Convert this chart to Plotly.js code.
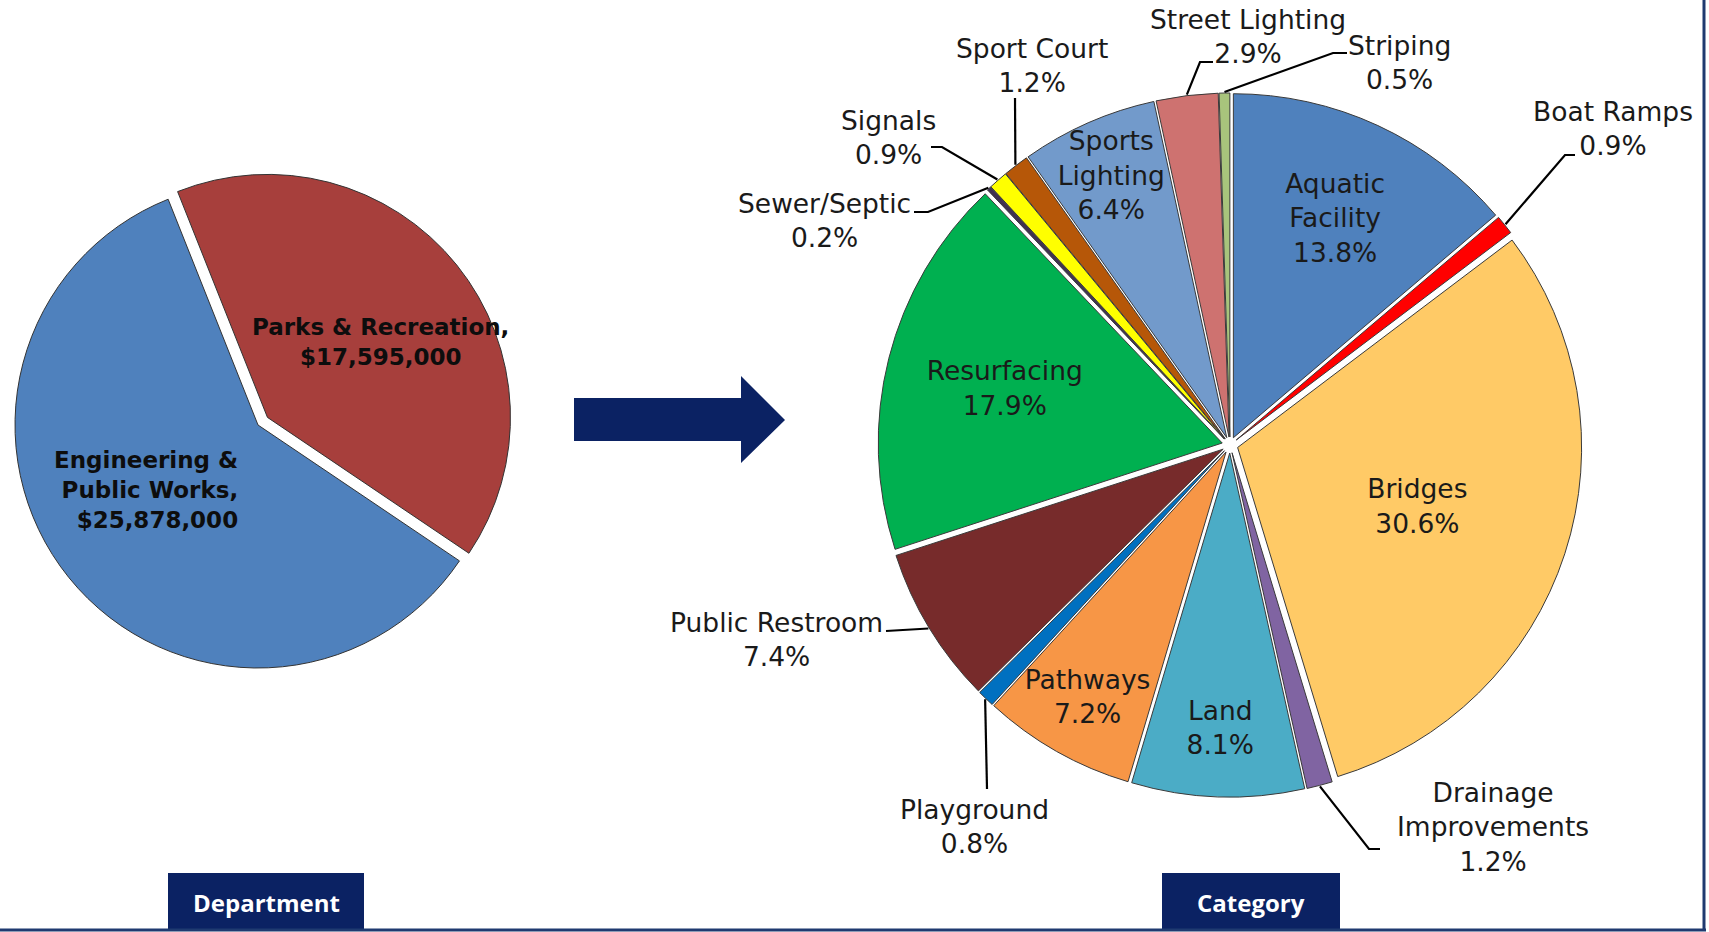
<!DOCTYPE html>
<html>
<head>
<meta charset="utf-8">
<script src="https://cdn.plot.ly/plotly-3.0.1.min.js"></script>
<style>
html,body{margin:0;padding:0;overflow:hidden;background:#ffffff;}
#chart{width:1709px;height:932px;}
</style>
</head>
<body>
<div id="chart"></div>
<script>
// ---------------- DATA ----------------
const departments = ['Engineering & Public Works', 'Parks & Recreation'];
const departmentBudgets = [25878000, 17595000];
const departmentLabelText = ['Engineering &<br>Public Works,', 'Parks & Recreation,'];

const categories = ['Aquatic Facility', 'Boat Ramps', 'Bridges', 'Drainage Improvements', 'Land',
  'Pathways', 'Playground', 'Public Restroom', 'Resurfacing', 'Sewer/Septic', 'Signals',
  'Sport Court', 'Sports Lighting', 'Street Lighting', 'Striping'];
const categoryShares = [13.8, 0.9, 30.6, 1.2, 8.1, 7.2, 0.8, 7.4, 17.9, 0.2, 0.9, 1.2, 6.4, 2.9, 0.5];
const categoryLabelText = ['Aquatic<br>Facility', 'Boat Ramps', 'Bridges', 'Drainage<br>Improvements', 'Land',
  'Pathways', 'Playground', 'Public Restroom', 'Resurfacing', 'Sewer/Septic', 'Signals',
  'Sport Court', 'Sports<br>Lighting', 'Street Lighting', 'Striping'];

const panelTitles = ['Department', 'Category'];

// ---------------- STYLE / LAYOUT ----------------
const departmentColors = ['#4F81BD', '#A73F3C'];
const categoryColors = ['#4F81BD', '#FF0000', '#FFCA66', '#8064A2', '#4BACC6', '#F79646', '#0070C0',
  '#772B2B', '#00B050', '#403152', '#FFFF00', '#B65708', '#729ACB', '#CE7270', '#A8C47C'];

const W = 1709, H = 932;
const X = v => v / W;
const Y = v => 1 - v / H;

// left pie geometry (pixels)
const L = {cx: 258, cy: 425, r: 243, pulls: [0, 0.05], rotation: 124};
// right pie geometry (pixels)
const R = {cx: 1230, cy: 445, r: 344, pull: 0.0233};

function domainFor(g, maxPull) {
  const half = g.r * (1 + maxPull);
  return {
    x: [X(g.cx - half), X(g.cx + half)],
    y: [Y(g.cy + half), Y(g.cy - half)]
  };
}

// outside label placement (label centre, elbow, end of leader) in pixels
const outsideLabels = {
  'Boat Ramps':            {x: 1613, y: 129, path: [[1565, 155], [1575, 155]]},
  'Drainage Improvements': {x: 1493, y: 827, path: [[1369, 849], [1380, 849]]},
  'Playground':            {x: 974,  y: 826, path: [[987, 789]]},
  'Public Restroom':       {x: 776,  y: 639, path: [[886, 631]]},
  'Sewer/Septic':          {x: 824,  y: 221, path: [[928, 212], [914, 212]]},
  'Signals':               {x: 888,  y: 137, path: [[942, 147], [931, 147]]},
  'Sport Court':           {x: 1032, y: 65,  path: [[1015, 98]]},
  'Street Lighting':       {x: 1248, y: 37,  path: [[1200, 62], [1213, 62]]},
  'Striping':              {x: 1399, y: 63,  path: [[1333, 53], [1347, 53]]}
};

const FONT = 'DejaVu Sans, Verdana, sans-serif';
const LABEL_SIZE = 26.5;
const textColor = '#1a1a1a';
const navy = '#0B2263';

// ---------------- TRACES ----------------
const leftPie = {
  type: 'pie',
  labels: departments,
  values: departmentBudgets,
  sort: false,
  direction: 'clockwise',
  rotation: L.rotation,
  pull: L.pulls,
  marker: {colors: departmentColors, line: {color: '#333333', width: 1}},
  textinfo: 'none',
  hoverinfo: 'label+value',
  domain: domainFor(L, Math.max(...L.pulls)),
  showlegend: false
};

const rightPositions = categories.map(c => outsideLabels[c] ? 'none' : 'inside');
const rightTemplates = categories.map(c => outsideLabels[c] ? '' : '%{text}<br>%{percent:.1%}');

const rightPie = {
  type: 'pie',
  labels: categories,
  values: categoryShares,
  text: categoryLabelText,
  sort: false,
  direction: 'clockwise',
  rotation: 0,
  pull: categories.map(() => R.pull),
  marker: {colors: categoryColors, line: {color: '#3a3a3a', width: 1}},
  textposition: rightPositions,
  texttemplate: rightTemplates,
  insidetextorientation: 'horizontal',
  insidetextfont: {family: FONT, size: LABEL_SIZE, color: textColor},
  hoverinfo: 'label+percent',
  domain: domainFor(R, R.pull),
  showlegend: false
};

// ---------------- ANNOTATIONS & SHAPES ----------------
const annotations = [];
const shapes = [];

// left pie labels
const fmt = v => '$' + v.toLocaleString('en-US');
annotations.push({
  xref: 'paper', yref: 'paper', x: X(240), y: Y(490), xanchor: 'right', yanchor: 'middle',
  align: 'right', showarrow: false,
  text: departmentLabelText[0] + '<br>' + fmt(departmentBudgets[0]),
  font: {family: FONT, size: 23, color: '#0d0d0d', weight: 700}
});
annotations.push({
  xref: 'paper', yref: 'paper', x: X(380), y: Y(342), xanchor: 'center', yanchor: 'middle',
  align: 'center', showarrow: false,
  text: departmentLabelText[1] + '<br>' + fmt(departmentBudgets[1]),
  font: {family: FONT, size: 23, color: '#0d0d0d', weight: 700}
});

// right pie outside labels + leaders (start point from the data's slice angle)
const total = categoryShares.reduce((a, b) => a + b, 0);
let cum = 0;
categories.forEach((c, i) => {
  const v = categoryShares[i];
  const mid = (cum + v / 2) / total * 2 * Math.PI;
  cum += v;
  const o = outsideLabels[c];
  if (!o) return;
  const pct = (v / total * 100).toFixed(1) + '%';
  annotations.push({
    xref: 'paper', yref: 'paper', x: X(o.x), y: Y(o.y), xanchor: 'center', yanchor: 'middle',
    align: 'center', showarrow: false,
    text: categoryLabelText[i] + '<br>' + pct,
    font: {family: FONT, size: LABEL_SIZE, color: textColor}
  });
  const rr = R.r * (1 + R.pull) + 1;
  const sx = R.cx + rr * Math.sin(mid);
  const sy = R.cy - rr * Math.cos(mid);
  let p = `M ${X(sx)},${Y(sy)}`;
  o.path.forEach(pt => { p += ` L ${X(pt[0])},${Y(pt[1])}`; });
  shapes.push({type: 'path', xref: 'paper', yref: 'paper', path: p,
    line: {color: '#000000', width: 2.2}});
});

// arrow
const arrowPts = [[574, 398], [741, 398], [741, 376], [785, 420], [741, 463], [741, 441], [574, 441]];
shapes.push({
  type: 'path', xref: 'paper', yref: 'paper',
  path: 'M ' + arrowPts.map(p => X(p[0]) + ',' + Y(p[1])).join(' L ') + ' Z',
  fillcolor: navy, line: {width: 0}
});

// panel title boxes
const boxes = [[168, 364], [1162, 1340]];
boxes.forEach((b, i) => {
  shapes.push({type: 'rect', xref: 'paper', yref: 'paper',
    x0: X(b[0]), x1: X(b[1]), y0: Y(931), y1: Y(873), fillcolor: navy, line: {width: 0}});
  annotations.push({
    xref: 'paper', yref: 'paper', x: X((b[0] + b[1]) / 2), y: Y(902), xanchor: 'center', yanchor: 'middle',
    showarrow: false, text: panelTitles[i],
    font: {family: 'Open Sans, Noto Sans, sans-serif', size: 24, color: '#ffffff', weight: 700}
  });
});

// frame lines (bottom and right)
shapes.push({type: 'line', xref: 'paper', yref: 'paper', x0: 0, x1: X(1706), y0: Y(930), y1: Y(930),
  line: {color: '#1F3A70', width: 3}});
shapes.push({type: 'line', xref: 'paper', yref: 'paper', x0: X(1704), x1: X(1704), y0: Y(0), y1: Y(931),
  line: {color: '#1F3A70', width: 3}});

const layout = {
  width: W, height: H,
  margin: {l: 0, r: 0, t: 0, b: 0, pad: 0},
  paper_bgcolor: '#ffffff',
  plot_bgcolor: '#ffffff',
  showlegend: false,
  uniformtext: {mode: 'show', minsize: LABEL_SIZE},
  annotations: annotations,
  shapes: shapes
};

Plotly.newPlot('chart', [leftPie, rightPie], layout, {displayModeBar: false, staticPlot: true});
</script>
</body>
</html>
